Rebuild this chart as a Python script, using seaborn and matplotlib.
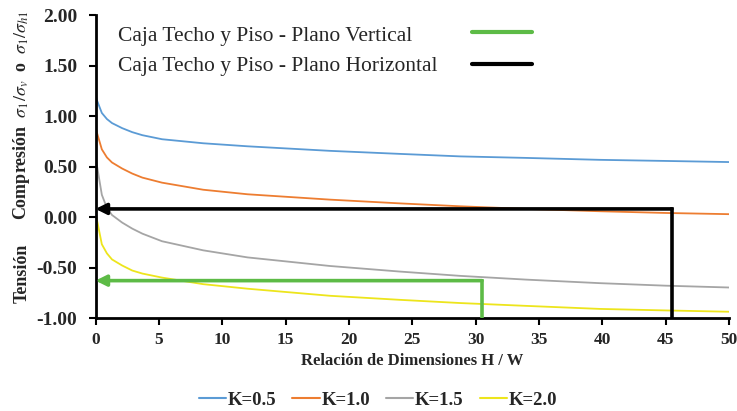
import numpy as np
import pandas as pd
import matplotlib
matplotlib.use("Agg")
import matplotlib.pyplot as plt
from matplotlib.lines import Line2D
import seaborn as sns

# ---- data ----
hw = [0, 0.1, 0.5, 0.9, 1.3, 2.1, 2.9, 3.7, 5.25, 8.5, 12, 18.5, 24, 28.8, 34, 39.8, 45, 50]
k05 = [1.21, 1.16, 1.03, 0.97, 0.93, 0.88, 0.84, 0.81, 0.77, 0.73, 0.70, 0.655, 0.625, 0.60, 0.585, 0.566, 0.555, 0.544]
k10 = [0.90, 0.84, 0.67, 0.59, 0.54, 0.48, 0.43, 0.39, 0.34, 0.27, 0.225, 0.172, 0.135, 0.106, 0.08, 0.057, 0.04, 0.028]
k15 = [0.61, 0.52, 0.22, 0.09, 0.02, -0.055, -0.115, -0.165, -0.24, -0.33, -0.40, -0.485, -0.54, -0.583, -0.62, -0.655, -0.68, -0.698]
k20 = [0.03, -0.02, -0.27, -0.36, -0.42, -0.48, -0.53, -0.56, -0.60, -0.665, -0.71, -0.78, -0.82, -0.852, -0.88, -0.91, -0.925, -0.938]
series_labels = ["K=0.5", "K=1.0", "K=1.5", "K=2.0"]
series_colors = ["#5B9BD5", "#ED7D31", "#A5A5A5", "#EDE51C"]

guide_labels = ["Caja Techo y Piso - Plano Vertical", "Caja Techo y Piso - Plano Horizontal"]
guide_x = [30.5, 45.5]
guide_y = [-0.63, 0.08]
guide_colors = ["#5DBB46", "#000000"]

x_ticks = [0, 5, 10, 15, 20, 25, 30, 35, 40, 45, 50]
y_ticks = [-1.0, -0.5, 0.0, 0.5, 1.0, 1.5, 2.0]

df = pd.DataFrame({
    "hw": hw * 4,
    "val": k05 + k10 + k15 + k20,
    "K": sum([[lab] * len(hw) for lab in series_labels], []),
})

sns.set_style("white")
plt.rcParams["font.family"] = ["Liberation Serif", "DejaVu Serif"]
plt.rcParams["mathtext.fontset"] = "stix"

W, H = 737, 411
fig = plt.figure(figsize=(W / 100, H / 100), dpi=100)
ax = fig.add_axes([95.5 / W, 1 - 318 / H, (729 - 95.5) / W, (318 - 15) / H])

sns.lineplot(data=df, x="hw", y="val", hue="K", palette=series_colors,
             hue_order=series_labels, linewidth=1.3, ax=ax, legend=False)

ymin = y_ticks[0]
for gx, gy, gc in zip(guide_x, guide_y, guide_colors):
    ax.plot([gx, gx], [ymin, gy], color=gc, lw=2.6, solid_capstyle="projecting", zorder=5)
    ax.annotate("", xy=(0, gy), xytext=(gx, gy),
                arrowprops=dict(arrowstyle="-|>", color=gc, lw=2.6,
                                mutation_scale=16, shrinkA=0, shrinkB=0),
                zorder=5)

ax.set_xlim(0, 50)
ax.set_ylim(-1.0, 2.0)
ax.set_xticks(x_ticks)
ax.set_xticklabels([str(t) for t in x_ticks])
ax.set_yticks(y_ticks)
ax.set_yticklabels([f"{t:.2f}" for t in y_ticks])
for lab in ax.get_xticklabels():
    lab.set_fontweight("bold"); lab.set_fontsize(12.5)
for lab in ax.get_yticklabels():
    lab.set_fontweight("bold"); lab.set_fontsize(14)

for s in ["top", "right"]:
    ax.spines[s].set_visible(False)
for s in ["left", "bottom"]:
    ax.spines[s].set_color("black")
    ax.spines[s].set_linewidth(2)
ax.tick_params(axis="both", direction="out", length=5, width=1.5, color="black", left=True, bottom=True)
ax.tick_params(axis="x", pad=5)
ax.tick_params(axis="y", pad=8)
ax.grid(False)

ax.set_xlabel("Relación de Dimensiones H / W", fontsize=12, fontweight="bold", labelpad=4)
ax.set_ylabel("")

fig.text(22 / W, 1 - 115 / H, r"Compresión  $\sigma_1/\sigma_v$  o  $\sigma_1/\sigma_{h1}$", rotation=90,
         ha="center", va="center", fontsize=13, fontweight="bold")
fig.text(22 / W, 1 - 273 / H, "Tensión", rotation=90, ha="center", va="center",
         fontsize=13, fontweight="bold")

# top key: labels on the left, line samples on the right
key_text_y = [37, 67]
key_line_y = [32, 64]
for lab, c, ty, ly in zip(guide_labels, guide_colors, key_text_y, key_line_y):
    fig.text(118 / W, 1 - ty / H, lab, ha="left", va="center", fontsize=15.5)
    fig.add_artist(Line2D([472 / W, 532 / W], [1 - ly / H, 1 - ly / H], color=c, lw=3,
                          transform=fig.transFigure))

# bottom legend
k_handles = [Line2D([], [], color=c, lw=1.5) for c in series_colors]
fig.legend(k_handles, series_labels, loc="center", bbox_to_anchor=(378 / W, 1 - 400 / H),
           ncol=4, frameon=False, handlelength=1.45, handletextpad=0.1, columnspacing=0.85,
           borderpad=0, prop=dict(family="Liberation Serif", weight="bold", size=13.5))

fig.savefig("out.png", dpi=100)
